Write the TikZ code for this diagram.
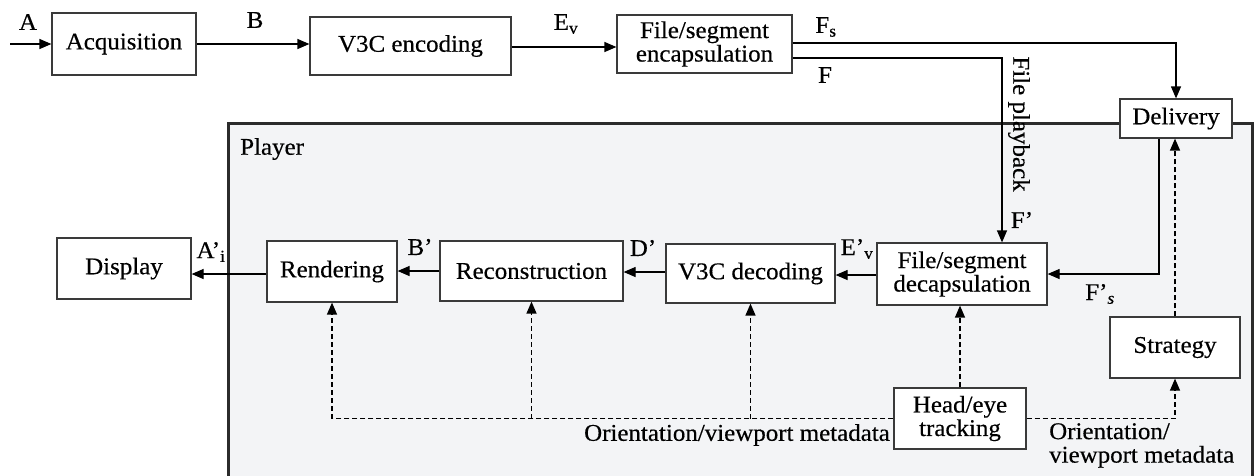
\documentclass[tikz,border=0pt]{standalone}
\usepackage{fontspec}
\setmainfont{Liberation Serif}[FakeStretch=1.04,FakeBold=0.4]
\usetikzlibrary{arrows.meta}
\definecolor{boxline}{HTML}{3A3A3A}
\definecolor{playerfill}{HTML}{F3F4F6}
\definecolor{playerline}{HTML}{2B2B2B}
\begin{document}
\begin{tikzpicture}[x=1pt,y=-1pt,
  font=\fontsize{24}{23.5}\selectfont,
  blk/.style={draw=boxline,line width=1.2pt,fill=white,inner sep=0pt,align=center,anchor=center},
  arr/.style={line width=1.2pt,-{Triangle[length=12pt,width=10pt]}},
  darr/.style={line width=1.3pt,dash pattern=on 5pt off 3pt,-{Triangle[length=12pt,width=10pt]}},
  dline/.style={line width=1.3pt,dash pattern=on 5pt off 3pt},
  lbl/.style={inner sep=0pt,anchor=center}]
\useasboundingbox (0,0) rectangle (1257,475);
% player region
\fill[playerfill] (228,123) rectangle (1252,490);
\draw[playerline,line width=3pt] (228,490) -- (228,123) -- (1252,123) -- (1252,490);
\node[lbl,anchor=west] (player) at (240,149) {Player};
% boxes
\node[blk,minimum width=144pt,minimum height=62pt] (acq) at (124,44) {Acquisition};
\node[blk,minimum width=201pt,minimum height=58pt] (enc) at (410.5,46) {V3C encoding};
\node[blk,minimum width=175pt,minimum height=58pt] (encap) at (704.5,44) {File/segment\\encapsulation};
\node[blk,minimum width=112pt,minimum height=39pt] (deliv) at (1176,118.5) {Delivery};
\node[blk,minimum width=134pt,minimum height=61pt] (disp) at (124,268.5) {Display};
\node[blk,minimum width=130pt,minimum height=61pt] (rend) at (332,271.5) {Rendering};
\node[blk,minimum width=183pt,minimum height=60pt] (recon) at (531.5,271) {Reconstruction};
\node[blk,minimum width=169pt,minimum height=59pt] (dec) at (750.5,273.5) {V3C decoding};
\node[blk,minimum width=170pt,minimum height=62pt] (decap) at (962,274) {File/segment\\decapsulation};
\node[blk,minimum width=130pt,minimum height=61pt] (strat) at (1175,347.5) {Strategy};
\node[blk,minimum width=132pt,minimum height=61pt] (head) at (960,418.5) {Head/eye\\tracking};
% input
\coordinate (in) at (10,44);
\draw[arr] (in) -- (acq.west);
\node[lbl] (lA) at (28,22) {A};
% top row arrows
\draw[arr] (acq.east) -- (acq.east -| enc.west);
\node[lbl] (lB) at (255,20) {B};
\draw[arr] ([yshift=-1pt]enc.east) -- ([yshift=-1pt]enc.east -| encap.west);
\node[lbl] (lEv) at (566,24) {E\textsubscript{v}};
\draw[arr] ([yshift=1pt]encap.east) -| (deliv.north);
\node[lbl] (lFs) at (826,27) {F\textsubscript{s}};
\draw[arr] ([yshift=-14pt]encap.east) -| ([xshift=40pt]decap.north);
\node[lbl] (lF) at (825,75) {F};
\node[lbl,rotate=-90] (lfp) at (1019,124) {File playback};
\node[lbl] (lFp) at (1022,220) {F’};
\draw[arr] ([xshift=-17pt]deliv.south) |- (decap.east);
\node[lbl] (lFps) at (1100,294) {F’\textsubscript{\itshape s}};
% second row arrows
\draw[arr] ([yshift=-1pt]decap.west) -- ([yshift=-1pt]decap.west -| dec.east);
\node[lbl] (lEpv) at (857,249) {E’\textsubscript{v}};
\draw[arr] ([yshift=1.5pt]dec.west) -- ([yshift=1.5pt]dec.west -| recon.east);
\node[lbl] (lDp) at (643,248) {D’};
\draw[arr] (recon.west) -- (recon.west -| rend.east);
\node[lbl] (lBp) at (420,247) {B’};
\draw[arr] ([yshift=-2.5pt]rend.west) -- ([yshift=-2.5pt]rend.west -| disp.east);
\node[lbl] (lAp) at (211,252) {A’\textsubscript{i}};
% dashed metadata paths
\draw[darr] (strat.north) -- (strat.north |- deliv.south);
\draw[darr] (head.north) -- (head.north |- decap.south);
\draw[darr] (head.east) -| (strat.south);
\coordinate (mleft) at (332,418.5);
\draw[dline] (head.west) -- (mleft);
\draw[darr] (mleft) -- (rend.south);
\draw[darr] (recon.south |- mleft) -- (recon.south);
\draw[darr] (dec.south |- mleft) -- (dec.south);
\node[lbl,anchor=east] (lom) at (890,435) {Orientation/viewport metadata};
\node[lbl,anchor=north west,align=left] (rom) at (1049,423) {Orientation/\\viewport metadata};
\end{tikzpicture}
\end{document}
